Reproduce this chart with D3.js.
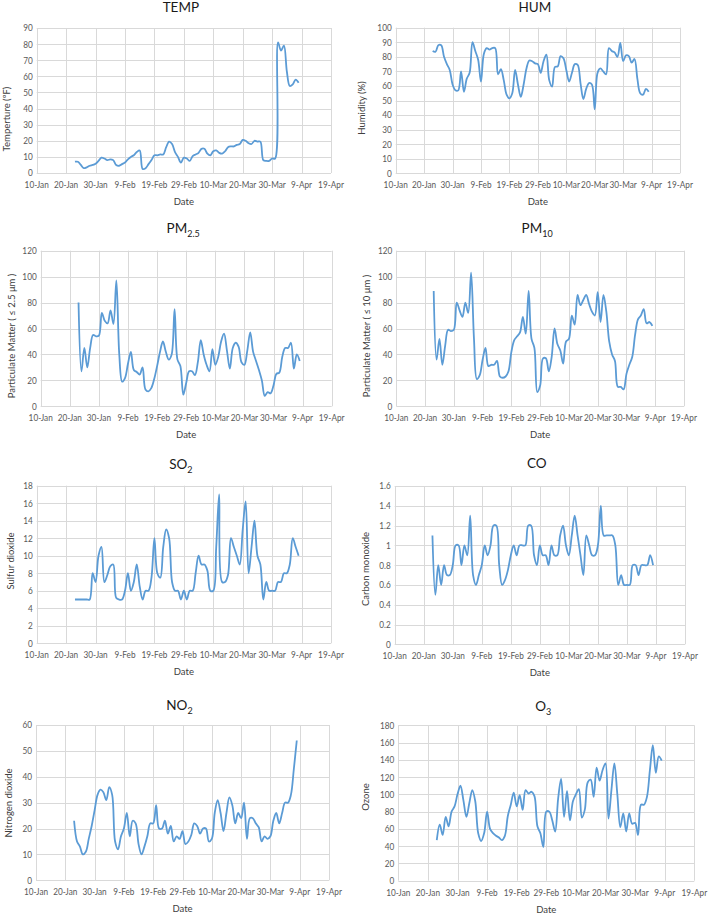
<!DOCTYPE html>
<html>
<head>
<meta charset="utf-8">
<script src="https://cdn.jsdelivr.net/npm/d3@7"></script>
<style>
  body { margin: 0; background: #fff; }
  svg { display: block; font-family: Lato, 'Open Sans', sans-serif; }
  .grid line { stroke: #d9d9d9; stroke-width: 1; }
  .tick-label { fill: #595959; font-size: 9.8px; }
  .axis-title { fill: #404040; font-size: 9.5px; }
  .chart-title { fill: #1a1a1a; font-size: 13.5px; }
  .series { fill: none; stroke: #5b9bd5; stroke-width: 1.8px; }
</style>
</head>
<body>
<svg class="canvas" width="708" height="916"></svg>
<script>
// Daily readings, 23-Jan-2020 .. 8-Apr-2020
const firstDay = new Date(2020, 0, 23);
const xTickLabels = ['10-Jan', '20-Jan', '30-Jan', '9-Feb', '19-Feb', '29-Feb', '10-Mar', '20-Mar', '30-Mar', '9-Apr', '19-Apr'];

const temp = [7,7,5,3,3.5,4.5,5,5.8,7.5,9.5,9,8,8.5,8,5,4.5,5.5,6.5,8.5,10,11,13,14,
  2.5,3,5.5,8,11,11,11.5,11.5,16,19.5,18,13,10,6.5,
  9.5,9,7.5,10.5,11.5,12.5,15,15,12,11,13.5,14,12.5,12,13.5,16,16.5,16.5,17.5,18,
  20.5,20,18.5,18,20,19.5,19.5,8,7.5,7.5,9,9,81,76,79,63,54,55,58,56];
const hum = [84,83.5,88,88,80,75,71,61,57,57,70,56,65,69,90,84,78,63,82,86,85,86,86,
  68,71.5,64,54,51.5,55,71,61,52.5,61,72,77.5,77,75.5,
  75,69,77,81.5,64,59.5,73,73.5,80.5,79,71,63,69,75,74.5,62,51,58,62,61,
  44,69,72,70,68,86,84,83,80,89.5,77,81,80.5,76,78.5,65,55,54,58,56];
const pm25 = [80,27,45,30,45,55,54,54.5,72,66,64,74,63.5,97,40,19,22,33,42,28,26.5,24.5,30,
  13,11.5,14,21,31,42,50,42,36,40,75,36,31,9,
  18,27,27,24,34,51,40,32,27,44,32,38,50,56,43,29,45,49,46,34,
  32,43,57,42,35,28,20,8,11,10,16,25,26,38,45,45,49,29,40,35];
const pm10 = [89,36,52,32,47,59,58,59,80,74,69,80,72,103,52,21,24,36,45,31,32,32,35,
  23,22,23,27,42,51,54,57,69,56,89,52,45,11,
  16,37,37,27,38,60,48,43,33,50,52,70,63,86,78,82,86,79,73,70,
  88,65,86,73,50,40,35,15,15,13,25,32,38,55,67,70,75,64,65,62];
const so2 = [5,5,5,5,5,5,8,7,10,11,7,7.8,8.8,9,5.2,5,5,6,8,6,7,9,6.5,
  5,6,6,7.5,12,8,7.5,11,13,12,7,6,6,5,
  6,5,6,6,8,10,9,9,8.3,6,6,11,17,7,7,7.8,12,11,10,9,
  13,16.2,8,11,14,10,9,5,7,6,6,6,7,7,8,8,9,12,11,10];
const co = [1.1,0.5,0.8,0.6,0.8,0.7,0.7,0.8,1.0,1.0,0.8,1.0,0.9,1.3,0.7,0.6,0.7,0.8,1.0,0.9,1.0,1.2,1.2,
  0.8,0.6,0.65,0.75,0.9,1.0,0.9,1.0,1.0,1.0,1.2,1.2,0.9,0.8,
  1.0,0.9,0.9,0.8,1.0,0.9,0.9,1.1,1.2,1.0,0.9,1.1,1.3,1.1,0.9,0.7,1.1,1.0,0.9,0.9,
  1.0,1.4,1.1,1.1,1.1,1.1,1.0,0.6,0.7,0.6,0.6,0.6,0.8,0.8,0.7,0.8,0.8,0.8,0.9,0.8];
const no2 = [23,15,13,10,11,16,21,27,33,35,34,31,36,33,15,12,17,20,26,17,23,22,14,
  10,13,17,22,22,29,20,20,23,18,21,15,17,16,
  19,14,15,17.5,22,21,18,20,20,15,16,26,31,26,19,26,32,29,22,26,
  24,30,16,24,24,22,20.5,15,17,16,17,23,26,22,26,30,30,33,43,54];
const o3 = [47,65,53,74,63,80,86,100,110,93,74,90,105,92,55,46,55,80,60,55,52,50,47,
  52,75,88,102,86,99,82,105,101,103,98,63,55,39,
  80,80,70,57,95,118,74,104,70,92,100,106,73,82,114,117,97,131,116,128,
  136,72,105,136,100,62,78,57,78,66,67,53,88,88,97,128,157,125,144,139];

// Panel layout (title parts: [text, isSubscript])
const panels = [
  { values: temp, title: [['TEMP', false]], ylabel: 'Temperture (ºF)', yMax: 90, yStep: 10,
    box: [36.7, 331, 28, 173], titleY: 11.5, ylabelX: 7, ylabelY: 119 },
  { values: hum, title: [['HUM', false]], ylabel: 'Humidity (%)', yMax: 100, yStep: 10,
    box: [395.7, 680, 27.7, 173.3], titleY: 11.5, ylabelX: 362, ylabelY: 108 },
  { values: pm25, title: [['PM', false], ['2.5', true]], ylabel: 'Particulate Matter ( ≤ 2.5 μm )', yMax: 120, yStep: 20,
    box: [40.7, 331.7, 250.7, 406.3], titleY: 232.5, ylabelX: 11.5, ylabelY: 336 },
  { values: pm10, title: [['PM', false], ['10', true]], ylabel: 'Particulate Matter ( ≤ 10 μm )', yMax: 120, yStep: 20,
    box: [396.3, 684, 250.7, 406.3], titleY: 232.5, ylabelX: 366.5, ylabelY: 336 },
  { values: so2, title: [['SO', false], ['2', true]], ylabel: 'Sulfur dioxide', yMax: 18, yStep: 2,
    box: [36.7, 331, 485.7, 643.3], titleY: 469, ylabelX: 10.5, ylabelY: 561 },
  { values: co, title: [['CO', false]], ylabel: 'Carbon monoxide', yMax: 1.6, yStep: 0.2,
    box: [394.7, 685, 486, 644.3], titleY: 468, ylabelX: 365.5, ylabelY: 569 },
  { values: no2, title: [['NO', false], ['2', true]], ylabel: 'Nitrogen dioxide', yMax: 60, yStep: 10,
    box: [36, 329, 725, 880.3], titleY: 710, ylabelX: 8.5, ylabelY: 803 },
  { values: o3, title: [['O', false], ['3', true]], ylabel: 'Ozone', yMax: 180, yStep: 20,
    box: [398.3, 694.3, 725.3, 880.7], titleY: 711, ylabelX: 365.5, ylabelY: 797 },
];

const svg = d3.select('.canvas'),
  parseTick = d3.timeParse('%d-%b-%Y'),
  tickDates = xTickLabels.map(l => parseTick(l + '-2020')),
  squeeze = 0.84; // Lato is wider than the Calibri-like original

panels.forEach(p => {
  const [left, right, top, bottom] = p.box,
    x = d3.scaleTime([tickDates[0], tickDates[tickDates.length - 1]], [left, right]),
    y = d3.scaleLinear([0, p.yMax], [bottom, top]),
    yTicks = d3.range(0, p.yMax + p.yStep / 2, p.yStep).map(v => +v.toFixed(2)),
    g = svg.append('g');

  // gridlines
  const grid = g.append('g').attr('class', 'grid');
  grid.selectAll('.h').data(yTicks).enter().append('line')
    .attr('x1', left).attr('x2', right)
    .attr('y1', d => Math.round(y(d)) + 0.5).attr('y2', d => Math.round(y(d)) + 0.5);
  grid.selectAll('.v').data(tickDates).enter().append('line')
    .attr('x1', d => Math.round(x(d)) + 0.5).attr('x2', d => Math.round(x(d)) + 0.5)
    .attr('y1', top).attr('y2', bottom);

  // tick labels
  g.selectAll('.ylab').data(yTicks).enter().append('text')
    .attr('class', 'tick-label')
    .attr('transform', d => `translate(${left - 4},${y(d)}) scale(${squeeze},1)`)
    .attr('dy', '0.35em')
    .attr('text-anchor', 'end')
    .text(d => String(d));
  g.selectAll('.xlab').data(tickDates).enter().append('text')
    .attr('class', 'tick-label')
    .attr('transform', d => `translate(${x(d)},${bottom + 15}) scale(${squeeze},1)`)
    .attr('text-anchor', 'middle')
    .text((d, i) => xTickLabels[i]);

  // axis titles
  g.append('text').attr('class', 'axis-title')
    .attr('x', (left + right) / 2).attr('y', bottom + 32)
    .attr('text-anchor', 'middle').text('Date');
  g.append('text').attr('class', 'axis-title')
    .attr('transform', `translate(${p.ylabelX},${p.ylabelY}) rotate(-90)`)
    .attr('text-anchor', 'middle').attr('dy', '0.35em').text(p.ylabel);

  // chart title
  const t = g.append('text').attr('class', 'chart-title')
    .attr('x', (left + right) / 2 - 3).attr('y', p.titleY).attr('text-anchor', 'middle');
  p.title.forEach(([txt, sub]) => {
    const s = t.append('tspan').text(txt);
    if (sub) s.attr('font-size', '9px').attr('dy', 4);
  });

  // series
  const line = d3.line()
    .x((d, i) => x(d3.timeDay.offset(firstDay, i)))
    .y(d => y(d))
    .curve(d3.curveCatmullRom.alpha(0.5));
  g.append('path').attr('class', 'series').attr('d', line(p.values));
});
</script>
</body>
</html>
